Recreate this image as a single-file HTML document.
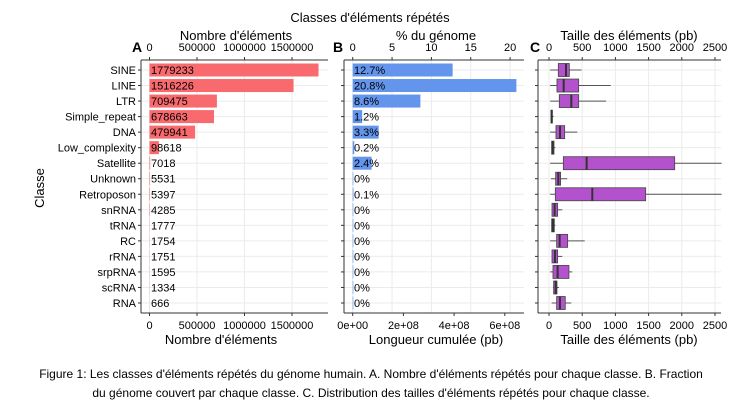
<!DOCTYPE html>
<html><head><meta charset="utf-8"><style>
body{margin:0;background:#fff;width:740px;height:409px;overflow:hidden;font-family:"Liberation Sans",sans-serif}
svg text{font-family:"Liberation Sans",sans-serif}
</style></head><body>
<svg id="c" width="740" height="409"></svg>
<script>
const classes=["SINE","LINE","LTR","Simple_repeat","DNA","Low_complexity","Satellite","Unknown","Retroposon","snRNA","tRNA","RC","rRNA","srpRNA","scRNA","RNA"];
const counts=[1779233,1516226,709475,678663,479941,98618,7018,5531,5397,4285,1777,1754,1751,1595,1334,666];
const pct=[12.7,20.8,8.6,1.2,3.3,0.2,2.4,0,0.1,0,0,0,0,0,0,0];
const pctLabels=["12.7%","20.8%","8.6%","1.2%","3.3%","0.2%","2.4%","0%","0.1%","0%","0%","0%","0%","0%","0%","0%"];
const boxLo=[17,17,17,25,17,35,17,30,17,40,35,17,40,17,60,40];
const boxQ1=[140,120,155,30,105,40,216,100,95,45,40,115,45,60,70,115];
const boxMed=[256,221,336,40,166,55,567,140,652,85,60,160,90,130,100,165];
const boxQ3=[306,447,447,50,236,75,1893,175,1456,130,80,281,130,300,120,245];
const boxHi=[490,930,860,70,427,95,2600,275,2600,200,95,537,200,350,150,336];
const ticksA=[0,500000,1000000,1500000];
const ticksB=[0,5,10,15,20];
const ticksB2=[0,2e8,4e8,6e8];const ticksB2Labels=["0e+00","2e+08","4e+08","6e+08"];
const ticksC=[0,500,1000,1500,2000,2500];

const svg=document.getElementById('c');const NS="http://www.w3.org/2000/svg";
function el(t,a,txt){const e=document.createElementNS(NS,t);for(const k in a)e.setAttribute(k,a[k]);if(txt!==undefined)e.textContent=txt;svg.appendChild(e);return e;}
const pTop=60,pBot=313,y0=70,step=(303-70)/15;
const yS=i=>y0+i*step;
const xA=v=>149.5+v*95/1e6;
const xB=v=>352.7+v*7.87;
const xB2=v=>352.7+v*(50.7/2e8);
const xC=v=>549+v*0.0664;
const panels=[[141,328],[344,524],[538,721]];
panels.forEach(([l,r],p)=>{
 let g=el('rect',{x:l,y:pTop,width:r-l,height:pBot-pTop,fill:'#fff'});
 
 
 classes.forEach((c,i)=>{let ln=el('line',{x1:l,x2:r,y1:yS(i),y2:yS(i),stroke:'#ebebeb','stroke-width':1});
  
  
  el('line',{x1:l-3,x2:l,y1:yS(i),y2:yS(i),stroke:'#333'});});
});
ticksA.forEach(v=>el('line',{x1:xA(v),x2:xA(v),y1:pTop,y2:pBot,stroke:'#ebebeb'}));
ticksB.forEach(v=>el('line',{x1:xB(v),x2:xB(v),y1:pTop,y2:pBot,stroke:'#ebebeb'}));
ticksC.forEach(v=>el('line',{x1:xC(v),x2:xC(v),y1:pTop,y2:pBot,stroke:'#ebebeb'}));
classes.forEach((c,i)=>{
 let t=el('text',{x:136,y:yS(i)+4,'font-size':11,'text-anchor':'end',fill:'#000'},c);
 
 
 let b=el('rect',{x:xA(0),y:yS(i)-6.5,width:xA(counts[i])-xA(0),height:13,fill:'#f86a6d'});
 
 
 let l=el('text',{x:151,y:yS(i)+4,'font-size':11,fill:'#000'},String(counts[i]));
 
 
 let b2=el('rect',{x:xB(0),y:yS(i)-6.5,width:Math.max(0.6,xB(pct[i])-xB(0)),height:13,fill:'#6495ed'});
 
 
 let l2=el('text',{x:354,y:yS(i)+4,'font-size':11,fill:'#000'},pctLabels[i]);
 
 
 const yc=yS(i);
 let w=el('line',{x1:xC(boxLo[i]),x2:xC(boxHi[i]),y1:yc,y2:yc,stroke:'#555','stroke-width':1});
 
 
 let bx=el('rect',{x:xC(boxQ1[i]),y:yc-6.5,width:xC(boxQ3[i])-xC(boxQ1[i]),height:13,fill:'#b452cd',stroke:'#444','stroke-width':0.8});
 
 
 let m=el('line',{x1:xC(boxMed[i]),x2:xC(boxMed[i]),y1:yc-6.5,y2:yc+6.5,stroke:'#333','stroke-width':2});
 
 
});
panels.forEach(([l,r])=>{
 el('line',{x1:l,x2:l,y1:pTop,y2:pBot,stroke:'#333'});
 el('line',{x1:l,x2:r,y1:pTop,y2:pTop,stroke:'#333'});
 el('line',{x1:l,x2:r,y1:pBot,y2:pBot,stroke:'#333'});
});
function tick(x,lab,yTop){let t=el('text',{x:x,y:yTop?51:329,'font-size':11,'text-anchor':'middle'},lab);
 
 
 el('line',{x1:x,x2:x,y1:yTop?pTop-3:pBot,y2:yTop?pTop:pBot+3,stroke:'#333'});}
ticksA.forEach(v=>{tick(xA(v),String(v),true);tick(xA(v),String(v),false);});
ticksB.forEach(v=>tick(xB(v),String(v),true));
ticksB2.forEach((v,i)=>tick(xB2(v),ticksB2Labels[i],false));
ticksC.forEach(v=>{tick(xC(v),String(v),true);tick(xC(v),String(v),false);});
function txt(x,y,s,fs,name,extra){let t=el('text',Object.assign({x:x,y:y,'font-size':fs,'text-anchor':'middle'},extra||{}),s);
 
 
 return t;}
txt(370,22,"Classes d'éléments répétés",13,'chart-title');
txt(236,40,"Nombre d'éléments",13,'panel-a-top-title');
txt(436,40,"% du génome",13,'panel-b-top-title');
txt(629,40,"Taille des éléments (pb)",13,'panel-c-top-title');
txt(221,344,"Nombre d'éléments",13,'panel-a-x-title');
txt(436,344,"Longueur cumulée (pb)",13,'panel-b-x-title');
txt(629,344,"Taille des éléments (pb)",13,'panel-c-x-title');
txt(137,52,"A",14,'panel-a-label',{'font-weight':'bold'});
txt(338,52,"B",14,'panel-b-label',{'font-weight':'bold'});
txt(535,52,"C",14,'panel-c-label',{'font-weight':'bold'});
txt(44,188,"Classe",13,'y-axis-title',{transform:'rotate(-90 44 188)'});
txt(371,378,"Figure 1: Les classes d'éléments répétés du génome humain. A. Nombre d'éléments répétés pour chaque classe. B. Fraction",12,'caption-line-1');
txt(371,397,"du génome couvert par chaque classe. C. Distribution des tailles d'éléments répétés pour chaque classe.",12,'caption-line-2');
</script>
</body></html>
